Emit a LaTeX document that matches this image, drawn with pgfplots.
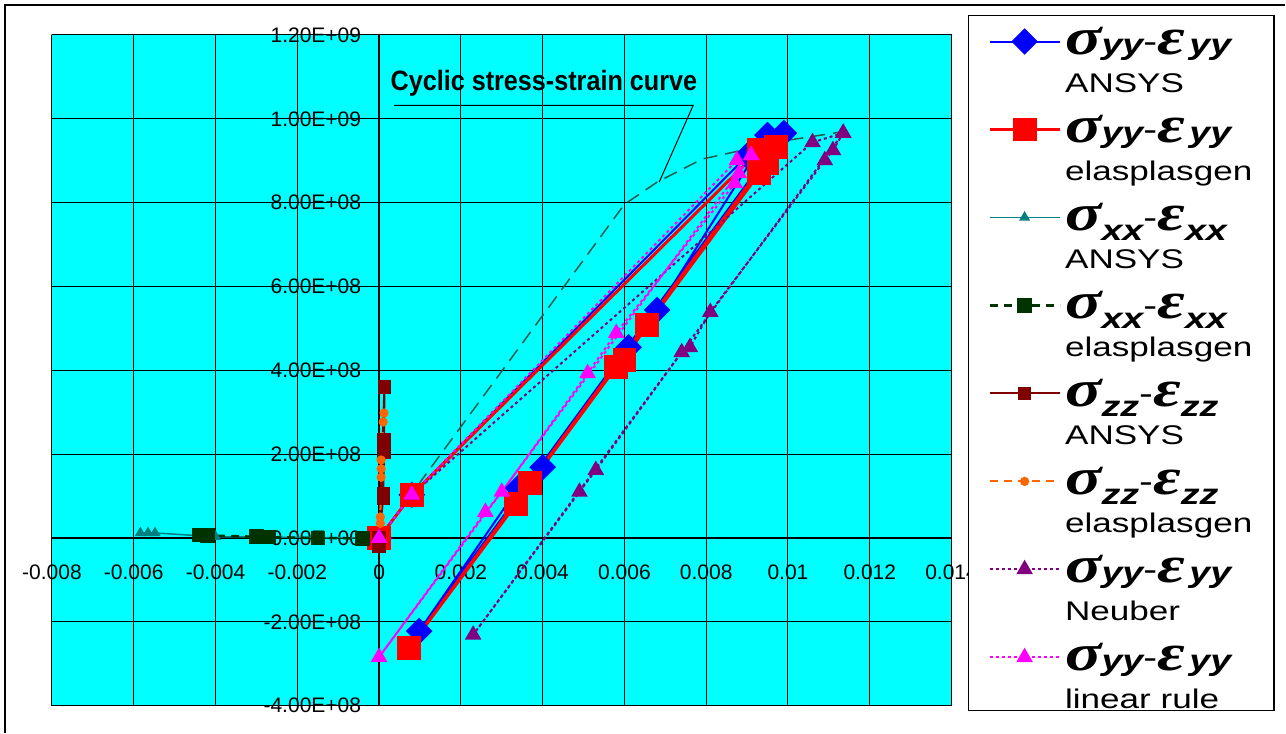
\documentclass[border=0pt]{standalone}
\usepackage{fontspec}
\setmainfont{Liberation Sans}
\newfontfamily\grkfont{Liberation Serif}
\usepackage{graphicx}
\usepackage{pgfplots}
\pgfplotsset{compat=1.18}

\definecolor{bgcyan}{RGB}{0,255,255}
\definecolor{cblue}{RGB}{0,0,255}
\definecolor{cred}{RGB}{255,0,0}
\definecolor{cteal}{RGB}{0,128,128}
\definecolor{cdkgreen}{RGB}{0,51,0}
\definecolor{cdkred}{RGB}{128,0,0}
\definecolor{corange}{RGB}{255,102,0}
\definecolor{cpurple}{RGB}{128,0,128}
\definecolor{cmagenta}{RGB}{255,0,255}
\definecolor{ccyclic}{RGB}{40,90,80}

\newcommand\grk[1]{{\grkfont\bfseries\itshape\fontsize{26}{26}\selectfont #1}}
\newcommand\sub[1]{{\bfseries\itshape\fontsize{14.5}{14.5}\selectfont #1}}
\newcommand\hy{{\fontsize{16}{16}\selectfont\raisebox{1pt}{-}}}
\newcommand\fyy{\grk{σ}\sub{yy}\hy\grk{ε}\,\sub{yy}}
\newcommand\fxx{\grk{σ}\raisebox{-5pt}{\sub{xx}}\hy\grk{ε}\raisebox{-5pt}{\sub{xx}}}
\newcommand\fzz{\grk{σ}\raisebox{-5pt}{\sub{zz}}\hy\grk{ε}\raisebox{-5pt}{\sub{zz}}}
% whole entry lies above its baseline: sigma baseline is 22pt above the node baseline
\newcommand\ent[2]{\raisebox{22pt}{\makebox[92.5pt][l]{\rule[-22pt]{0pt}{38.5pt}\scalebox{1.3}[1]{\rlap{\raisebox{-19pt}{\fontsize{13.5}{13.5}\selectfont #2}}#1}}}}
% last entry: less room below
\newcommand\entlast[2]{\raisebox{15.5pt}{\makebox[92.5pt][l]{\rule[-15.5pt]{0pt}{32pt}\scalebox{1.3}[1]{\rlap{\raisebox{-19pt}{\fontsize{13.5}{13.5}\selectfont #2}}#1}}}}

\begin{document}
\begin{tikzpicture}
\fill[white] (0,0) rectangle (643pt,366.5pt);
\begin{axis}[
  at={(26pt,13.5pt)}, anchor=south west,
  scale only axis, width=450pt, height=335.5pt,
  xmin=-0.008, xmax=0.014, ymin=-4e8, ymax=1.2e9,
  axis lines=middle, axis line style={-, black, line width=0.6pt},
  axis background/.style={fill=bgcyan, draw=gray, line width=0.5pt},
  grid=major, major grid style={black, line width=0.5pt},
  xtick={-0.008,-0.006,-0.004,-0.002,0,0.002,0.004,0.006,0.008,0.01,0.012,0.014},
  xticklabels={-0.008,-0.006,-0.004,-0.002,0,0.002,0.004,0.006,0.008,0.01,0.012,0.014},
  ytick={-4e8,-2e8,0,2e8,4e8,6e8,8e8,1e9,1.2e9},
  yticklabels={-4.00E+08,-2.00E+08,0.00E+00,2.00E+08,4.00E+08,6.00E+08,8.00E+08,1.00E+09,1.20E+09},
  scaled ticks=false,
  tick align=outside, major tick length=3.5pt, tick style={black, line width=0.5pt},
  ticklabel style={font=\fontsize{10.5}{12}\selectfont},
  xticklabel style={yshift=-6.5pt},
  yticklabel style={xshift=-2pt},
  hide obscured x ticks=false, hide obscured y ticks=false,
  clip=false,
  legend style={at={(1.01778,1.02981)}, anchor=north west, draw=black, line width=0.6pt,
    fill=white, inner xsep=10pt, inner ysep=1pt, row sep=0pt, column sep=0pt,
    cells={anchor=base west, inner sep=0pt}, font=\fontsize{10}{10}\selectfont},
  legend image code/.code={\draw[mark repeat=2,mark phase=2,yshift=28.5pt] plot coordinates {(0pt,0pt) (17.5pt,0pt) (35pt,0pt)};},
]
% cyclic stress-strain curve
\addplot[color=ccyclic, line width=0.75pt, dash pattern=on 7pt off 4pt, forget plot] coordinates {
 (0,0) (0.006,7.96e8) (0.0068,8.49e8) (0.0079,9.04e8) (0.0100,9.49e8) (0.0114,9.7e8)};

\addplot[color=cblue, line width=1pt, mark=square*, mark size=4.2pt, mark options={rotate=45, solid, fill=cblue}] coordinates {
 (0,0) (0.0008,1.03e8) (0.0090,9.12e8) (0.0095,9.61e8) (0.0099,9.66e8) (0.00098,-2.22e8)
 (0.0034,1.19e8) (0.0040,1.69e8) (0.0061,4.55e8) (0.0068,5.44e8) (0.0095,9.61e8)};
\addlegendentry{\ent{\fyy}{ANSYS}}

\addplot[color=cred, line width=1.5pt, mark=square*, mark size=5.2pt, mark options={solid, fill=cred}] coordinates {
 (0,0) (0.0008,1.03e8) (0.0093,9.25e8) (0.0097,9.32e8) (0.00073,-2.62e8) (0.00335,0.81e8)
 (0.0037,1.31e8) (0.0058,4.08e8) (0.0060,4.25e8) (0.00655,5.08e8) (0.0093,8.7e8) (0.0095,8.94e8) (0.0097,9.32e8)};
\addlegendentry{\ent{\fyy}{elasplasgen}}

\addplot[color=cteal, line width=0.75pt, mark=triangle*, mark size=2.5pt, mark options={solid, fill=cteal}] coordinates {
 (0,0) (-0.0040,0.03e8) (-0.00548,0.12e8) (-0.00565,0.12e8) (-0.00584,0.12e8)};
\addlegendentry{\ent{\fxx}{ANSYS}}

\addplot[color=cdkgreen, line width=1.25pt, dash pattern=on 4pt off 3pt, mark=square*, mark size=3pt, mark options={solid, fill=cdkgreen}] coordinates {
 (0,0) (-0.0004,-0.01e8) (-0.0015,0) (-0.0027,0.02e8) (-0.0030,0.03e8) (-0.0042,0.06e8) (-0.0044,0.07e8)};
\addlegendentry{\ent{\fxx}{elasplasgen}}

\addplot[color=cdkred, line width=1pt, mark=square*, mark size=2.8pt, mark options={solid, fill=cdkred}] coordinates {
 (0,0) (0.0001,0.95e8) (0.0001,1.07e8) (0.00012,2.03e8) (0.00012,2.34e8) (0.00013,3.6e8) (0,-0.2e8)};
\addlegendentry{\ent{\fzz}{ANSYS}}

\addplot[color=corange, line width=1pt, dash pattern=on 4pt off 3pt, mark=*, mark size=1.8pt, mark options={solid, fill=corange}] coordinates {
 (0,0) (0.00003,0.35e8) (0.00003,0.5e8) (0.00005,1.45e8) (0.00005,1.65e8) (0.00005,1.86e8) (0.0001,2.77e8) (0.00012,2.98e8)};
\addlegendentry{\ent{\fzz}{elasplasgen}}

\addplot[color=cpurple, line width=1pt, dash pattern=on 1.5pt off 1.5pt, mark=triangle*, mark size=3.8pt, mark options={solid, fill=cpurple}] coordinates {
 (0,0) (0.0008,1.03e8) (0.0106,9.44e8) (0.01135,9.66e8) (0.0023,-2.31e8) (0.0049,1.1e8) (0.0053,1.62e8)
 (0.0074,4.43e8) (0.0076,4.55e8) (0.0081,5.39e8) (0.0109,9.01e8) (0.0111,9.25e8) (0.01135,9.66e8)};
\addlegendentry{\ent{\fyy}{Neuber}}

\addplot[color=cmagenta, line width=1pt, dash pattern=on 1.5pt off 1.5pt, mark=triangle*, mark size=3.8pt, mark options={solid, fill=cmagenta},
  legend image code/.code={\draw[mark repeat=2,mark phase=2,yshift=22pt] plot coordinates {(0pt,0pt) (17.5pt,0pt) (35pt,0pt)};}] coordinates {
 (0,0) (0.0008,1.03e8) (0.00875,9.01e8) (0.0091,9.13e8) (0,-2.84e8) (0.0026,0.62e8) (0.0030,1.1e8)
 (0.0051,3.93e8) (0.0058,4.89e8) (0.0087,8.46e8) (0.0088,8.7e8) (0.0091,9.13e8)};
\addlegendentry{\entlast{\fyy}{linear rule}}

\draw[black, line width=0.5pt] (axis cs:0.00037,10.32e8) -- (axis cs:0.00768,10.32e8) -- (axis cs:0.00685,8.49e8);
\node[inner sep=0pt] at (axis cs:0.00403,10.85e8) {\scalebox{0.9}[1]{\fontsize{14}{14}\selectfont\bfseries Cyclic stress-strain curve}};
\end{axis}
\draw[black, line width=0.6pt] (2.5pt,0) -- (2.5pt,364pt) -- (643pt,364pt);
\end{tikzpicture}
\end{document}
